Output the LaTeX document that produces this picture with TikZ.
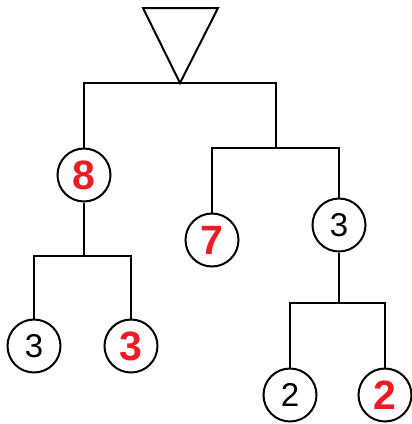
\documentclass[tikz,border=0pt]{standalone}
\usepackage{fontspec}
\setmainfont{Liberation Sans}
\usetikzlibrary{positioning}
\definecolor{hitred}{RGB}{237,28,36}

\begin{document}
\begin{tikzpicture}[
  x=1pt, y=-1pt,
  line width=2pt,
  num/.style={draw, circle, line width=2pt, minimum size=53pt, inner sep=0pt, font=\fontsize{33}{33}\selectfont},
  best/.style={num, text=hitred, font=\fontsize{41}{41}\selectfont\bfseries}
]
\useasboundingbox (0,0) rectangle (412,424);

% root triangle
\coordinate (root) at (180,83);
\draw[line join=miter] (root) -- (143,8) -- (218,8) -- cycle;

\node[best] (n8) at (84,175) {8};
\node[best] (n7) at (212,240) {7};
\node[num] (n3b) at (339,225) {3};
\node[num] (n3a) at (34,346) {3};
\node[best] (n3r) at (131,346) {3};
\node[num] (n2a) at (290,395) {2};
\node[best] (n2r) at (385,395) {2};

\coordinate (j1) at (276,148);
\coordinate (j2) at (84,256);
\coordinate (j3) at (339,303);

\draw (root) -| (n8);
\draw (root) -| (j1);
\draw (j1) -| (n7);
\draw (j1) -| (n3b);
\draw (n8) -- (j2);
\draw (j2) -| (n3a);
\draw (j2) -| (n3r);
\draw (n3b) -- (j3);
\draw (j3) -| (n2a);
\draw (j3) -| (n2r);
\end{tikzpicture}
\end{document}
